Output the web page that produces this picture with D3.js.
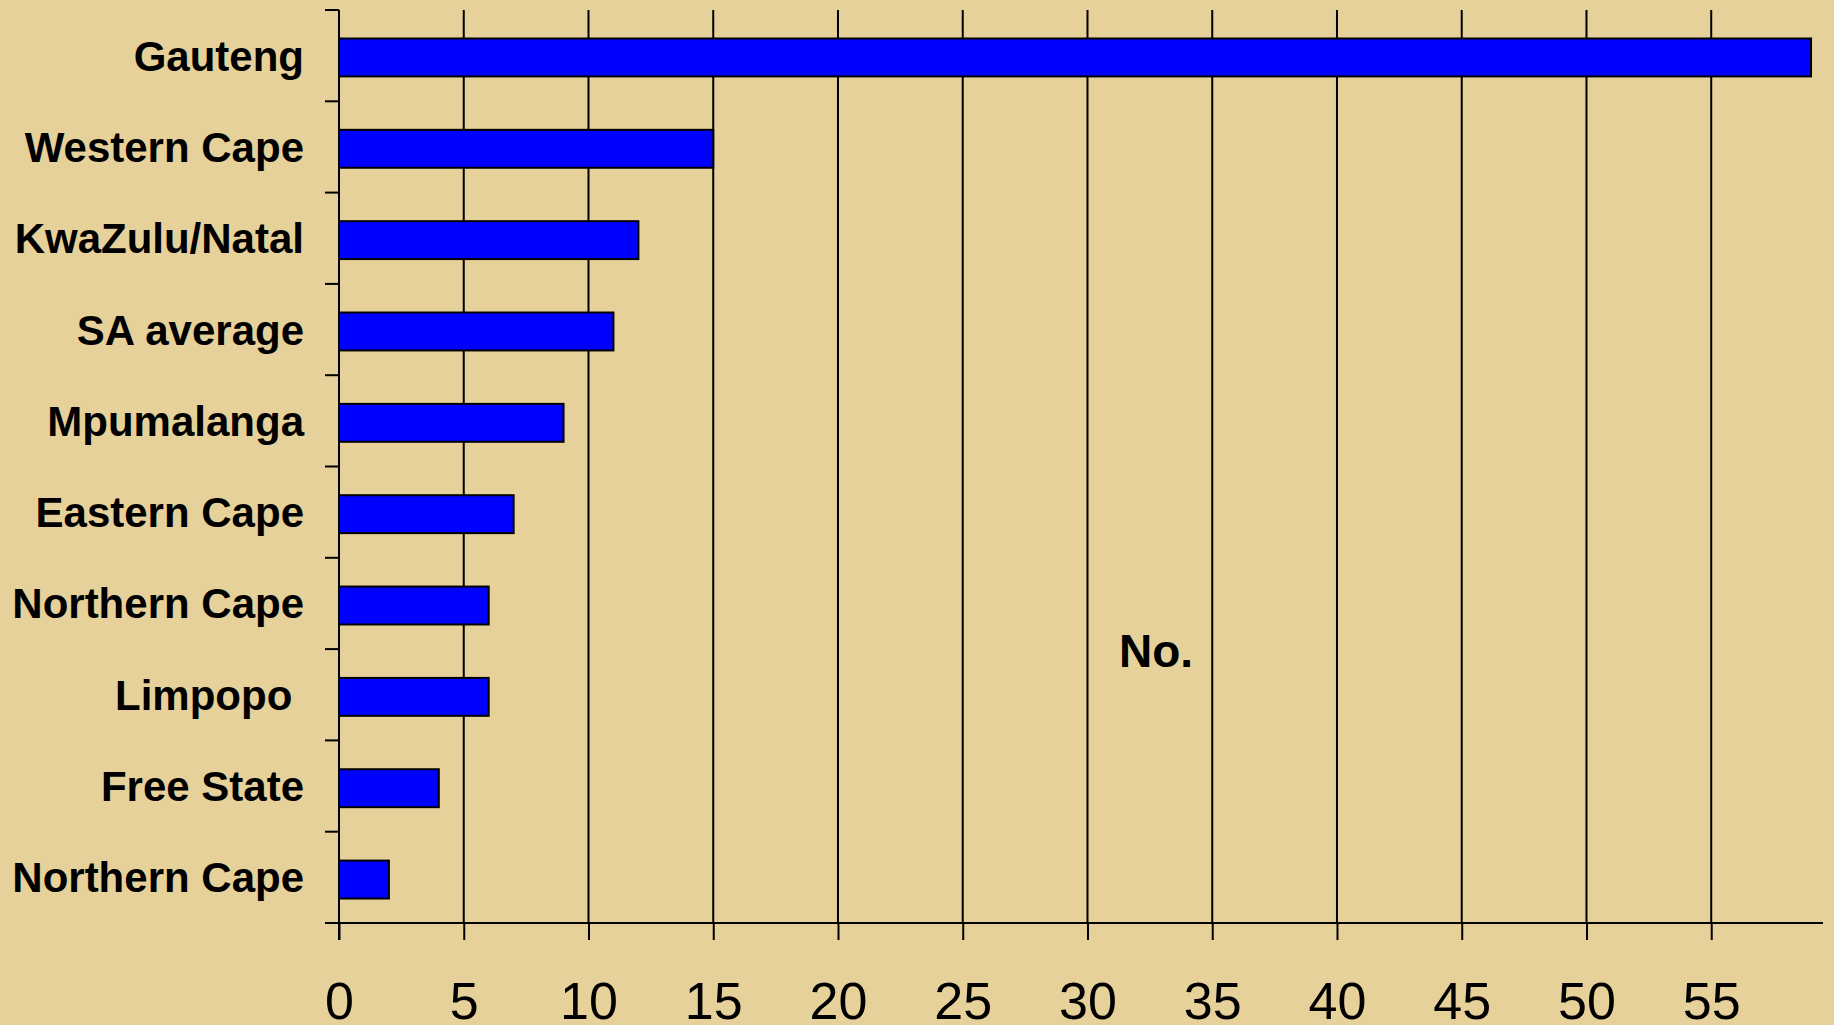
<!DOCTYPE html>
<html>
<head>
<meta charset="utf-8">
<script src="https://cdn.jsdelivr.net/npm/d3@7"></script>
<style>
  html, body { margin: 0; padding: 0; background: #E6D19A; }
  svg { display: block; }
  text { font-family: "Liberation Sans", Arial, sans-serif; fill: #000; }
</style>
</head>
<body>
<svg id="chart" width="1834" height="1025"></svg>
<script>
const categories = ["Gauteng", "Western Cape", "KwaZulu/Natal", "SA average", "Mpumalanga",
                    "Eastern Cape", "Northern Cape", "Limpopo ", "Free State", "Northern Cape"];
const values = [59, 15, 12, 11, 9, 7, 6, 6, 4, 2];
const xTicks = [0, 5, 10, 15, 20, 25, 30, 35, 40, 45, 50, 55];
const axisTitle = "No.";

(function () {
const svg = d3.select("#chart");
svg.append("rect").attr("width", 1834).attr("height", 1025).attr("fill", "#E6D19A");

const pL = 339, pR = 1823, pT = 10, pB = 923;
const x = d3.scaleLinear().domain([0, 59.48]).range([pL, pR]);
const y = d3.scaleBand().domain(d3.range(categories.length)).range([pT + 2, pB + 2]).paddingInner(0.585).paddingOuter(0.29);
const yb = d3.scaleBand().domain(d3.range(categories.length)).range([pT, pB]);

// gridlines
svg.append("g").selectAll("line").data(xTicks.filter(d => d > 0)).join("line")
  .attr("x1", d => x(d)).attr("x2", d => x(d))
  .attr("y1", pT).attr("y2", pB)
  .attr("stroke", "#000").attr("stroke-width", 2);

// bars
svg.append("g").selectAll("rect").data(values).join("rect")
  .attr("x", x(0))
  .attr("y", (d, i) => y(i))
  .attr("width", d => x(d) - x(0))
  .attr("height", y.bandwidth())
  .attr("fill", "#0000FF")
  .attr("stroke", "#000").attr("stroke-width", 2);

// y axis line and ticks
svg.append("line").attr("x1", pL).attr("x2", pL).attr("y1", pT).attr("y2", pB + 17)
  .attr("stroke", "#000").attr("stroke-width", 2);
svg.append("g").selectAll("line").data(d3.range(categories.length)).join("line")
  .attr("x1", pL - 14).attr("x2", pL)
  .attr("y1", i => yb(i)).attr("y2", i => yb(i))
  .attr("stroke", "#000").attr("stroke-width", 2);

// x axis
const xAxis = d3.axisBottom(x).tickValues(xTicks).tickSize(17).tickPadding(42).tickSizeOuter(0);
const gx = svg.append("g").attr("transform", `translate(0,${pB})`).call(xAxis);
gx.select(".domain").attr("d", `M${pL - 14},0H${pR}`).attr("stroke", "#000").attr("stroke-width", 2);
gx.selectAll(".tick line").attr("stroke", "#000").attr("stroke-width", 2);
gx.selectAll(".tick text").attr("font-size", 52).attr("font-family", "Liberation Sans, Arial, sans-serif")
  .attr("fill", "#000").attr("dy", null).attr("y", 96);

// category labels
svg.append("g").selectAll("text").data(categories).join("text")
  .attr("x", 304)
  .attr("y", (d, i) => yb(i) + yb.bandwidth() / 2 + 15)
  .attr("text-anchor", "end")
  .attr("font-size", 42)
  .attr("font-weight", "bold")
  .style("white-space", "pre")
  .text(d => d);

// axis title
svg.append("text").attr("x", 1119).attr("y", 667)
  .attr("font-size", 46).attr("font-weight", "bold").text(axisTitle);
})();
</script>
</body>
</html>
